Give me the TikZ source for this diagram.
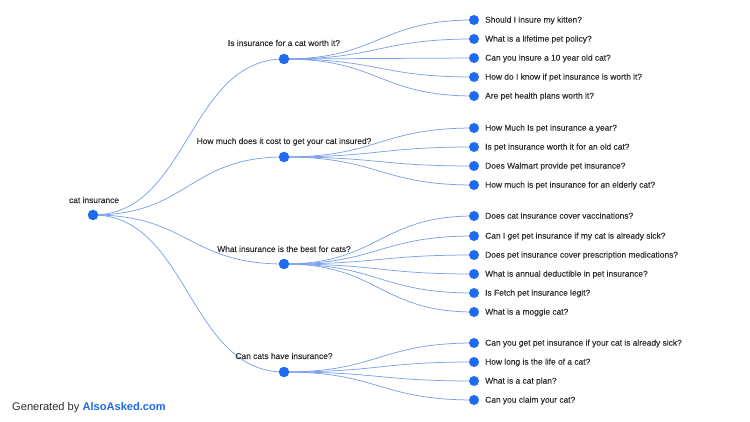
\documentclass[tikz,border=0pt]{standalone}
\usepackage{fontspec}
\setmainfont{Liberation Sans}
\newfontfamily\medfont[FakeBold=0.25]{Liberation Sans}
\usetikzlibrary{calc,backgrounds}
\definecolor{dotblue}{HTML}{1F6BEF}
\definecolor{lineblue}{HTML}{7CA2EA}
\definecolor{txtgray}{HTML}{2E2E2E}
\definecolor{brandblue}{HTML}{1E6AE6}
\newcommand\mylink[2]{\draw[edge] let \p1=(#1.center),\p2=(#2.center),\n1={(\x1+\x2)/2} in (\p1) .. controls (\n1,\y1) and (\n1,\y2) .. (\p2);}
\begin{document}
\begin{tikzpicture}[x=1pt,y=-1pt,
  dot/.style={circle,fill=dotblue,inner sep=0pt,minimum size=10.5pt},
  leafdot/.style={dot,minimum size=10pt},
  lbl/.style={font=\medfont\fontsize{8.4}{10}\selectfont,text=txtgray,inner sep=0pt},
  hlbl/.style={lbl,anchor=base},
  llbl/.style={lbl,anchor=mid west},
  edge/.style={draw=lineblue,line width=0.75pt}]
\useasboundingbox (0,0) rectangle (750,422);
% root
\node[dot] (r) at (93,215) {};
\node[hlbl] (rl) at (94,203) {cat insurance};
% level 1
\node[dot] (a) at (284,59) {};
\node[hlbl] (al) at (284,46) {Is insurance for a cat worth it?};
\node[dot] (b) at (284,157) {};
\node[hlbl] (bl) at (284,144) {How much does it cost to get your cat insured?};
\node[dot] (c) at (284,264) {};
\node[hlbl] (cl) at (284,252) {What insurance is the best for cats?};
\node[dot] (d) at (284,372) {};
\node[hlbl] (dl) at (284,359) {Can cats have insurance?};
% leaves
\foreach \i/\y/\t in {1/20/Should I insure my kitten?,2/39/What is a lifetime pet policy?,3/58/Can you insure a 10 year old cat?,4/77/How do I know if pet insurance is worth it?,5/96/Are pet health plans worth it?}{
  \node[leafdot] (a\i) at (474,\y) {};
  \node[llbl] (a\i l) at (485,\y) {\t};
}
\foreach \i/\y/\t in {1/128/How Much Is pet insurance a year?,2/147/Is pet insurance worth it for an old cat?,3/166/Does Walmart provide pet insurance?,4/185/How much is pet insurance for an elderly cat?}{
  \node[leafdot] (b\i) at (474,\y) {};
  \node[llbl] (b\i l) at (485,\y) {\t};
}
\foreach \i/\y/\t in {1/216/Does cat insurance cover vaccinations?,2/236/Can I get pet insurance if my cat is already sick?,3/255/Does pet insurance cover prescription medications?,4/274/What is annual deductible in pet insurance?,5/293/Is Fetch pet insurance legit?,6/312/What is a moggie cat?}{
  \node[leafdot] (c\i) at (474,\y) {};
  \node[llbl] (c\i l) at (485,\y) {\t};
}
\foreach \i/\y/\t in {1/343/Can you get pet insurance if your cat is already sick?,2/362/How long is the life of a cat?,3/381/What is a cat plan?,4/400/Can you claim your cat?}{
  \node[leafdot] (d\i) at (474,\y) {};
  \node[llbl] (d\i l) at (485,\y) {\t};
}
\begin{scope}[on background layer]
  \foreach \k in {a,b,c,d}{\mylink{r}{\k}}
  \foreach \i in {1,...,5}{\mylink{a}{a\i}}
  \foreach \i in {1,...,4}{\mylink{b}{b\i}}
  \foreach \i in {1,...,6}{\mylink{c}{c\i}}
  \foreach \i in {1,...,4}{\mylink{d}{d\i}}
\end{scope}
% footer
\node[anchor=mid west,inner sep=0pt,font=\fontsize{11.1}{13}\selectfont,text=txtgray] (foot) at (12,408) {Generated by \textcolor{brandblue}{\bfseries AlsoAsked.com}};
\end{tikzpicture}
\end{document}
